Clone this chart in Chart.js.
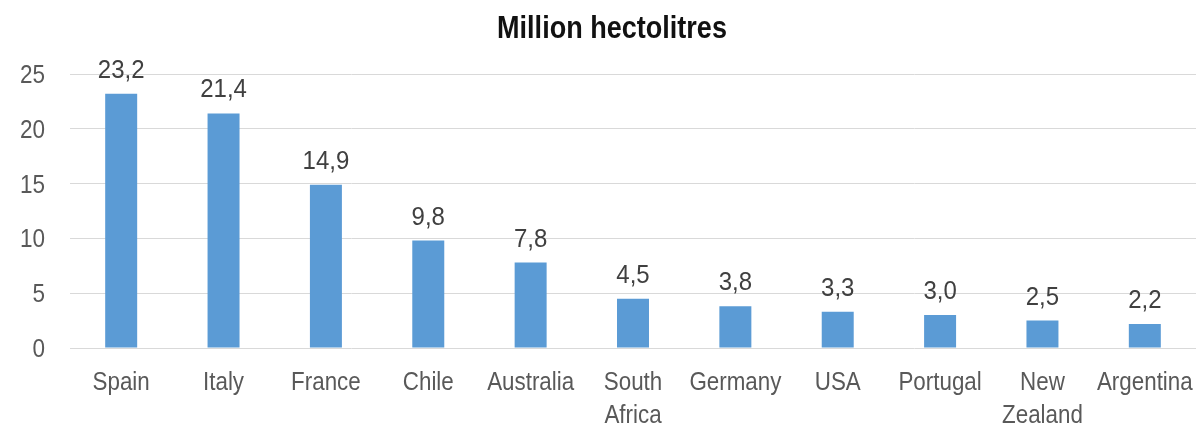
<!DOCTYPE html>
<html>
<head>
<meta charset="utf-8">
<script src="https://cdn.jsdelivr.net/npm/chart.js@4"></script>
<style>
  html, body { margin: 0; padding: 0; background: #fff; }
  #wrap { width: 1198px; height: 425px; }
</style>
</head>
<body>
<div id="wrap"><canvas id="chart" width="1198" height="425"></canvas></div>
<script>
const countries = ['Spain', 'Italy', 'France', 'Chile', 'Australia', ['South', 'Africa'],
  'Germany', 'USA', 'Portugal', ['New', 'Zealand'], 'Argentina'];
const volumes = [23.2, 21.4, 14.9, 9.8, 7.8, 4.5, 3.8, 3.3, 3.0, 2.5, 2.2];
const yTicks = [0, 5, 10, 15, 20, 25];

const FONT = '"Liberation Sans", Arial, sans-serif';

// narrow text: draw with a horizontal squeeze around x
function narrowText(ctx, txt, x, y, sx, align) {
  ctx.save();
  ctx.translate(x, y);
  ctx.scale(sx, 1);
  ctx.textAlign = align || 'center';
  ctx.fillText(txt, 0, 0);
  ctx.restore();
}

// title, axis labels and the value over each bar
const textPlugin = {
  id: 'chartText',
  afterDraw(chart) {
    const ctx = chart.ctx;
    const xs = chart.scales.x;
    const ys = chart.scales.y;
    ctx.save();
    ctx.textBaseline = 'alphabetic';

    ctx.fillStyle = '#111';
    ctx.font = 'bold 32px ' + FONT;
    narrowText(ctx, 'Million hectolitres', 612, 38, 0.845);

    ctx.fillStyle = '#595959';
    ctx.font = '25px ' + FONT;
    yTicks.forEach(v => {
      narrowText(ctx, String(v), 45, ys.getPixelForValue(v) + 9, 0.9, 'right');
    });

    ctx.font = '26px ' + FONT;
    countries.forEach((c, i) => {
      const lines = Array.isArray(c) ? c : [c];
      const x = xs.getPixelForTick(i);
      lines.forEach((ln, j) => narrowText(ctx, ln, x, 390 + j * 33, 0.86));
    });

    ctx.fillStyle = '#404040';
    ctx.font = '25px ' + FONT;
    chart.getDatasetMeta(0).data.forEach((bar, i) => {
      const txt = volumes[i].toFixed(1).replace('.', ',');
      narrowText(ctx, txt, bar.x, bar.y - 16, 0.96);
    });
    ctx.restore();
  }
};

new Chart(document.getElementById('chart'), {
  type: 'bar',
  data: {
    labels: countries,
    datasets: [{
      data: volumes,
      backgroundColor: '#5b9bd5',
      barPercentage: 0.3125,
      categoryPercentage: 1
    }]
  },
  options: {
    responsive: false,
    animation: false,
    layout: { padding: { top: 74, right: 2, left: 0, bottom: 0 } },
    plugins: {
      legend: { display: false },
      tooltip: { enabled: false }
    },
    scales: {
      x: {
        grid: { display: false },
        border: { display: false },
        ticks: { display: false },
        afterFit(scale) {
          scale.height = 77;
          scale.paddingLeft = 0;
          scale.paddingRight = 0;
        }
      },
      y: {
        min: 0,
        max: 25,
        afterBuildTicks(scale) { scale.ticks = yTicks.map(v => ({ value: v })); },
        grid: { color: '#d9d9d9', drawTicks: false },
        border: { display: false },
        ticks: { display: false },
        afterFit(scale) {
          scale.width = 70;
          scale.paddingTop = 0;
          scale.paddingBottom = 0;
        }
      }
    }
  },
  plugins: [textPlugin]
});
</script>
</body>
</html>
